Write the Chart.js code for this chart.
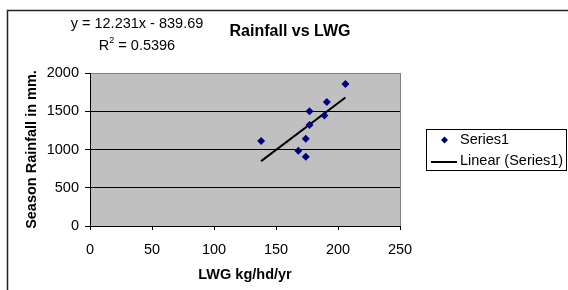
<!DOCTYPE html>
<html>
<head>
<meta charset="utf-8">
<script src="https://cdn.jsdelivr.net/npm/chart.js@4/dist/chart.umd.min.js"></script>
<style>
html,body{margin:0;padding:0;background:#fff;}
#wrap{width:568px;height:290px;position:relative;}
</style>
</head>
<body>
<div id="wrap"><canvas id="c" width="568" height="290"></canvas></div>
<script>
// ---- data ----
const lwg =      [138, 168, 174, 174, 177, 177, 189, 191, 206];
const rainfall = [1110, 985, 905, 1140, 1320, 1500, 1445, 1620, 1855];
const trendSlope = 12.231;
const trendIntercept = -839.69;
const rSquared = 0.5396;
const seriesName = 'Series1';
const trendName = 'Linear (Series1)';
const chartTitle = 'Rainfall vs LWG';
const xTitle = 'LWG kg/hd/yr';
const yTitle = 'Season Rainfall in mm.';

const FONT = '"Liberation Sans", Arial, sans-serif';
const points = lwg.map((x, i) => ({x: x, y: rainfall[i]}));
const xMin = Math.min(...lwg), xMax = Math.max(...lwg);
const trend = [xMin, xMax].map(x => ({x: x, y: trendSlope * x + trendIntercept}));

const decor = {
  id: 'decor',
  beforeDraw(chart) {
    const {ctx, chartArea: a} = chart;
    ctx.save();
    ctx.fillStyle = '#fff';
    ctx.fillRect(0, 0, chart.width, chart.height);
    // outer chart border
    ctx.strokeStyle = '#222';
    ctx.lineWidth = 1.5;
    ctx.strokeRect(7.5, 10.5, 700, 400);
    // plot area
    ctx.fillStyle = '#c0c0c0';
    ctx.fillRect(a.left, a.top, a.right - a.left, a.bottom - a.top);
    ctx.strokeStyle = '#808080';
    ctx.lineWidth = 1;
    ctx.beginPath();
    ctx.moveTo(Math.round(a.right) + 0.5, a.top);
    ctx.lineTo(Math.round(a.right) + 0.5, a.bottom);
    ctx.stroke();
    ctx.restore();
  },
  afterDraw(chart) {
    const {ctx} = chart;
    ctx.save();
    ctx.fillStyle = '#000';
    ctx.textBaseline = 'middle';
    // title
    ctx.font = 'bold 16px ' + FONT;
    ctx.textAlign = 'center';
    ctx.fillText(chartTitle, 290, 32);
    // equation
    ctx.font = '14.5px ' + FONT;
    const eq = 'y = ' + trendSlope + 'x - ' + Math.abs(trendIntercept);
    ctx.fillText(eq, 137, 24);
    // R^2
    const p1 = 'R', p3 = ' = ' + rSquared;
    ctx.font = '14.5px ' + FONT;
    const w1 = ctx.measureText(p1).width, w3 = ctx.measureText(p3).width;
    ctx.font = '9px ' + FONT;
    const w2 = ctx.measureText('2').width;
    let x0 = 137 - (w1 + w2 + w3) / 2;
    ctx.textAlign = 'left';
    ctx.font = '14.5px ' + FONT;
    ctx.fillText(p1, x0, 46);
    ctx.font = '9px ' + FONT;
    ctx.fillText('2', x0 + w1, 41);
    ctx.font = '14.5px ' + FONT;
    ctx.fillText(p3, x0 + w1 + w2, 46);
    // legend
    ctx.fillStyle = '#fff';
    ctx.fillRect(426, 129, 141, 42);
    ctx.strokeStyle = '#000';
    ctx.lineWidth = 1;
    ctx.strokeRect(426.5, 129.5, 140, 41);
    ctx.fillStyle = '#000080';
    ctx.beginPath();
    const dx = 444.5, dy = 140;
    ctx.moveTo(dx, dy - 3.5); ctx.lineTo(dx + 3.5, dy); ctx.lineTo(dx, dy + 3.5); ctx.lineTo(dx - 3.5, dy); ctx.closePath();
    ctx.fill();
    ctx.strokeStyle = '#000';
    ctx.lineWidth = 2;
    ctx.beginPath();
    ctx.moveTo(431, 162); ctx.lineTo(457, 162);
    ctx.stroke();
    ctx.fillStyle = '#000';
    ctx.font = '14.5px ' + FONT;
    ctx.fillText(seriesName, 460, 140);
    ctx.fillText(trendName, 460, 161);
    ctx.restore();
  }
};

new Chart(document.getElementById('c'), {
  type: 'scatter',
  data: {
    datasets: [
      {
        label: seriesName,
        data: points,
        pointStyle: 'rectRot',
        pointRadius: 4,
        pointHoverRadius: 4,
        backgroundColor: '#000080',
        borderColor: '#000080',
        borderWidth: 0,
        order: 1
      },
      {
        label: trendName,
        type: 'line',
        data: trend,
        borderColor: '#000',
        borderWidth: 2,
        pointRadius: 0,
        fill: false,
        order: 2
      }
    ]
  },
  options: {
    responsive: false,
    animation: false,
    devicePixelRatio: 1,
    layout: {padding: {left: 0, top: 73, right: 168, bottom: 0}},
    plugins: {legend: {display: false}, title: {display: false}, tooltip: {enabled: false}},
    scales: {
      x: {
        type: 'linear', min: 0, max: 250,
        ticks: {stepSize: 50, color: '#000', font: {family: FONT, size: 14.5}, padding: 11, maxRotation: 0,
                callback: v => String(v)},
        grid: {drawOnChartArea: false, drawTicks: true, tickLength: 4, tickColor: '#000', color: '#000'},
        border: {color: '#000', width: 1},
        title: {display: true, text: xTitle, color: '#000', font: {family: FONT, size: 14.5, weight: 'bold'}, padding: {top: 0, bottom: 6}},
        afterFit(s) { s.height = 64; }
      },
      y: {
        type: 'linear', min: 0, max: 2000,
        ticks: {stepSize: 500, color: '#000', font: {family: FONT, size: 14.5}, padding: 6,
                callback: v => String(v)},
        grid: {
          drawTicks: true, tickLength: 5, tickColor: '#000',
          color: ctx => (ctx.tick && ctx.tick.value === 2000) ? '#808080' : '#000'
        },
        border: {color: '#000', width: 1},
        title: {display: true, text: yTitle, color: '#000', font: {family: FONT, size: 14.5, weight: 'bold'}, padding: {top: 23, bottom: 0}},
        afterFit(s) { s.width = 90; }
      }
    }
  },
  plugins: [decor]
});
</script>
</body>
</html>
